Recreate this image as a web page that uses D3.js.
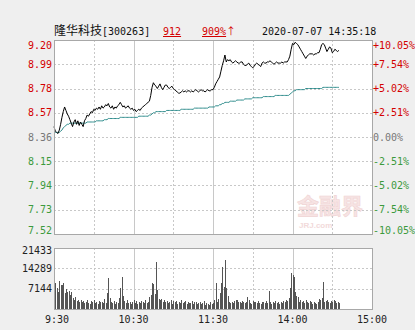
<!DOCTYPE html>
<html>
<head>
<meta charset="utf-8">
<script src="https://cdn.jsdelivr.net/npm/d3@7"></script>
<style>
  html, body { margin: 0; padding: 0; background: #efefef; }
  svg { display: block; }
  text { white-space: pre; }
</style>
</head>
<body>
<div id="chart"></div>
<script>
// minute index 0..240 (9:30 -> 11:30 = 0..120, 13:00 -> 15:00 = 120..240)
var timeTicks = [0, 60, 120, 180, 240];
var timeLabels = [' 9:30', '10:30', '11:30', '14:00', '15:00'];
var halfHourTicks = [30, 90, 150, 210];

var priceTicks = [9.20, 8.99, 8.78, 8.57, 8.36, 8.15, 7.94, 7.73, 7.52];
var priceLabels = ['9.20', '8.99', '8.78', '8.57', '8.36', '8.15', '7.94', '7.73', '7.52'];
var pctLabels = ['+10.05%', '+7.54%', '+5.02%', '+2.51%', '0.00%', '-2.51%', '-5.02%', '-7.54%', '-10.05%'];
var prevClose = 8.36;

var volTicks = [7144, 14289, 21433];

// last price, one per minute, 9:30 .. 14:35
var price = [
  8.45, 8.41, 8.40, 8.39, 8.42, 8.47, 8.53, 8.58, 8.62, 8.59,
  8.56, 8.54, 8.51, 8.48, 8.45, 8.49, 8.51, 8.47, 8.50, 8.46,
  8.49, 8.47, 8.45, 8.50, 8.52, 8.55, 8.54, 8.56, 8.58, 8.57,
  8.60, 8.59, 8.61, 8.60, 8.62, 8.60, 8.63, 8.61, 8.62, 8.64,
  8.63, 8.65, 8.62, 8.61, 8.63, 8.60, 8.62, 8.61, 8.63, 8.64,
  8.66, 8.64, 8.62, 8.63, 8.61, 8.62, 8.63, 8.61, 8.60, 8.61,
  8.59, 8.60, 8.58, 8.59, 8.60, 8.59, 8.61, 8.62, 8.63, 8.64,
  8.65, 8.66, 8.67, 8.72, 8.79, 8.83, 8.81, 8.80, 8.78, 8.80,
  8.82, 8.79, 8.77, 8.79, 8.81, 8.81, 8.79, 8.78, 8.79, 8.80,
  8.78, 8.77, 8.76, 8.75, 8.74, 8.74, 8.75, 8.76, 8.75, 8.76,
  8.75, 8.76, 8.76, 8.75, 8.76, 8.75, 8.76, 8.77, 8.76, 8.75,
  8.76, 8.77, 8.76, 8.76, 8.75, 8.76, 8.77, 8.76, 8.76, 8.77,
  8.77,
  8.79, 8.82, 8.84, 8.86, 8.88, 8.93, 8.98, 9.02, 9.07, 9.01,
  9.03, 9.02, 9.03, 9.01, 9.00, 9.01, 9.02, 9.01, 9.00, 9.00,
  9.01, 9.01, 8.99, 8.98, 8.98, 8.99, 9.00, 8.98, 8.97, 8.96,
  8.97, 8.99, 9.00, 8.99, 8.98, 8.97, 9.00, 9.01, 9.00, 9.00,
  9.01, 9.01, 9.02, 9.01, 9.00, 8.99, 9.00, 9.01, 9.00, 9.00,
  9.00, 9.01, 9.00, 9.01, 9.01, 9.01, 9.03, 9.06, 9.12, 9.17,
  9.16, 9.18, 9.17, 9.16, 9.14, 9.12, 9.10, 9.08, 9.06, 9.04,
  9.06, 9.07, 9.08, 9.08, 9.08, 9.07, 9.08, 9.08, 9.09, 9.09,
  9.12, 9.16, 9.17, 9.16, 9.13, 9.10, 9.12, 9.14, 9.13, 9.09,
  9.10, 9.12, 9.11, 9.10, 9.11
];

// average price line
var avgPrice = [
  8.40, 8.40, 8.40, 8.40, 8.40, 8.41, 8.42, 8.44, 8.45, 8.46,
  8.47, 8.47, 8.48, 8.48, 8.48, 8.48, 8.48, 8.48, 8.48, 8.48,
  8.48, 8.48, 8.48, 8.48, 8.48, 8.49, 8.49, 8.49, 8.49, 8.49,
  8.49, 8.49, 8.50, 8.50, 8.50, 8.50, 8.50, 8.50, 8.51, 8.51,
  8.51, 8.52, 8.52, 8.52, 8.52, 8.52, 8.52, 8.52, 8.52, 8.52,
  8.53, 8.53, 8.53, 8.53, 8.53, 8.53, 8.53, 8.53, 8.53, 8.53,
  8.53, 8.53, 8.53, 8.53, 8.54, 8.54, 8.54, 8.54, 8.54, 8.54,
  8.54, 8.54, 8.55, 8.55, 8.56, 8.57, 8.57, 8.58, 8.58, 8.58,
  8.58, 8.58, 8.58, 8.58, 8.58, 8.59, 8.59, 8.59, 8.59, 8.59,
  8.59, 8.59, 8.59, 8.59, 8.59, 8.59, 8.60, 8.60, 8.60, 8.60,
  8.60, 8.60, 8.60, 8.60, 8.60, 8.60, 8.61, 8.61, 8.61, 8.61,
  8.61, 8.61, 8.61, 8.61, 8.61, 8.61, 8.61, 8.62, 8.62, 8.62,
  8.62,
  8.62, 8.63, 8.63, 8.63, 8.64, 8.64, 8.65, 8.65, 8.66, 8.66,
  8.66, 8.66, 8.67, 8.67, 8.67, 8.67, 8.67, 8.68, 8.68, 8.68,
  8.68, 8.68, 8.68, 8.69, 8.69, 8.69, 8.69, 8.69, 8.69, 8.70,
  8.70, 8.70, 8.70, 8.70, 8.70, 8.70, 8.70, 8.71, 8.71, 8.71,
  8.71, 8.71, 8.71, 8.71, 8.71, 8.71, 8.72, 8.72, 8.72, 8.72,
  8.72, 8.72, 8.72, 8.72, 8.72, 8.72, 8.72, 8.73, 8.74, 8.75,
  8.76, 8.76, 8.77, 8.77, 8.77, 8.77, 8.77, 8.77, 8.77, 8.78,
  8.78, 8.78, 8.78, 8.78, 8.78, 8.78, 8.78, 8.78, 8.78, 8.78,
  8.78, 8.78, 8.79, 8.79, 8.79, 8.79, 8.79, 8.79, 8.79, 8.79,
  8.79, 8.79, 8.79, 8.79, 8.79
];

// volume per minute
var volume = [
  21000, 9000, 7400, 6100, 9900, 8400, 8400, 9000, 5500, 6900,
  5900, 6500, 5000, 6100, 3800, 3200, 4300, 2800, 3300, 2500,
  3100, 2400, 2900, 2000, 2600, 3300, 2200, 1800, 2700, 2400,
  3000, 2100, 2500, 1900, 2800, 2300, 2600, 2000, 3400, 2200,
  5700, 11000, 3900, 2500, 2100, 2900, 1800, 2400, 2000, 4000,
  7400, 11300, 4600, 2800, 2200, 3100, 2000, 2600, 1900, 2500,
  3000, 2200, 2700, 1800, 2400, 2100, 2900, 2300, 2000, 3300,
  2200, 2600, 4200, 5000, 9000, 8800, 5200, 16600, 6700, 3500,
  3000, 3400, 2600, 3200, 2400, 2800, 2100, 2500, 3000, 1900,
  2700, 2300, 2900, 1800, 2500, 2200, 3100, 2000, 2400, 2800,
  1900, 2600, 2200, 2000, 2900, 1700, 2300, 2500, 1800, 2100,
  2400, 1600, 2000, 2700, 1500, 2200, 1900, 1300, 2300, 1600,
  2000,
  3000, 9200, 2600, 3400, 5500, 9000, 14800, 7800, 17200, 7400,
  4600, 2600, 2200, 2500, 2000, 2800, 3000, 3300, 2600, 2300,
  2100, 2900, 2400, 2000, 2600, 4300, 3200, 2200, 1900, 2700,
  2300, 2500, 2000, 2800, 2200, 1800, 2600, 2400, 2100, 2700,
  2000, 6400, 2300, 1900, 2500, 2200, 2800, 2000, 2600, 1800,
  2400, 2100, 2900, 2500, 3200, 2800, 3800, 7400, 12500, 12100,
  11300, 6100, 4600, 4200, 2600, 3000, 2300, 2700, 2000, 3300,
  2500, 2200, 2800, 2400, 1900, 2600, 2100, 1700, 2300, 3500,
  3000, 3800, 9600, 2400, 2800, 3300, 2600, 2100, 2900, 2400,
  3100, 2700, 2200, 2500, 2000
];

var width = 415, height = 330;
var left = 54, right = 372;
var mainTop = 40, mainBottom = 234;
var volTop = 248, volBottom = 309;

var monoFont = '"DejaVu Sans Mono", "Liberation Mono", monospace';
var red = '#d40000', green = '#3c9a3c', grey = '#777';

var svg = d3.select('#chart')
  .append('svg')
  .attr('width', width)
  .attr('height', height);

var x = d3.scaleLinear().domain([0, 240]).range([left, right]);
var y = d3.scaleLinear().domain([7.52, 9.20]).range([mainBottom, mainTop]);
var yVol = d3.scaleLinear().domain([0, 21433]).range([volBottom, volTop]);

// plot backgrounds
[[mainTop, mainBottom], [volTop, volBottom]].forEach(function(p) {
  svg.append('rect')
    .attr('x', left + 0.5)
    .attr('y', p[0] + 0.5)
    .attr('width', right - left)
    .attr('height', p[1] - p[0])
    .attr('fill', '#fff');
});

// watermark
var wm = svg.append('g');
wm.append('text')
  .attr('x', 297).attr('y', 214)
  .attr('font-family', '"Noto Sans CJK SC"')
  .attr('font-weight', 'bold')
  .attr('font-size', 22)
  .attr('fill', '#f7e4e4')
  .attr('stroke', '#f0d4d4')
  .attr('stroke-width', 0.6)
  .text('金融界');
wm.append('text')
  .attr('x', 299).attr('y', 228)
  .attr('font-family', 'Arial, "Liberation Sans"')
  .attr('font-weight', 'bold')
  .attr('font-size', 8)
  .attr('fill', '#f2dada')
  .text('JRJ.com');

// horizontal grid
svg.append('g')
  .selectAll('line')
  .data(priceTicks.slice(1, -1))
  .enter()
  .append('line')
  .attr('x1', left).attr('x2', right)
  .attr('y1', d => Math.round(y(d)) + 0.5)
  .attr('y2', d => Math.round(y(d)) + 0.5)
  .style('stroke', '#c8c8c8')
  .style('stroke-dasharray', '2,2');

svg.append('g')
  .selectAll('line')
  .data(volTicks.slice(0, -1))
  .enter()
  .append('line')
  .attr('x1', left).attr('x2', right)
  .attr('y1', d => Math.round(yVol(d)) + 0.5)
  .attr('y2', d => Math.round(yVol(d)) + 0.5)
  .style('stroke', '#c8c8c8')
  .style('stroke-dasharray', '2,2');

// vertical grid, solid on the hour, dashed on the half hour
[[mainTop, mainBottom], [volTop, volBottom]].forEach(function(p) {
  svg.append('g')
    .selectAll('line.hour')
    .data(timeTicks.slice(1, -1))
    .enter()
    .append('line')
    .attr('class', 'hour')
    .attr('x1', d => Math.round(x(d)) + 0.5)
    .attr('x2', d => Math.round(x(d)) + 0.5)
    .attr('y1', p[0]).attr('y2', p[1])
    .style('stroke', '#c8c8c8');

  svg.append('g')
    .selectAll('line.half')
    .data(halfHourTicks)
    .enter()
    .append('line')
    .attr('class', 'half')
    .attr('x1', d => Math.round(x(d)) + 0.5)
    .attr('x2', d => Math.round(x(d)) + 0.5)
    .attr('y1', p[0]).attr('y2', p[1])
    .style('stroke', '#c8c8c8')
    .style('stroke-dasharray', '2,2');
});

// volume bars
svg.append('g')
  .selectAll('rect')
  .data(volume)
  .enter()
  .append('rect')
  .attr('x', (d, i) => Math.round(x(i)))
  .attr('y', d => yVol(d))
  .attr('width', 1)
  .attr('height', d => volBottom - yVol(d))
  .attr('fill', '#555')
  .attr('shape-rendering', 'crispEdges');

// average line
svg.append('path')
  .datum(avgPrice)
  .attr('d', d3.line().x((d, i) => x(i)).y(d => y(d)))
  .style('fill', 'none')
  .style('stroke', '#2f8c8c')
  .style('stroke-width', 1);

// price line
svg.append('path')
  .datum(price)
  .attr('d', d3.line().x((d, i) => x(i)).y(d => y(d)))
  .style('fill', 'none')
  .style('stroke', '#000')
  .style('stroke-width', 1);

// plot borders
[[mainTop, mainBottom], [volTop, volBottom]].forEach(function(p) {
  svg.append('rect')
    .attr('x', left + 0.5)
    .attr('y', p[0] + 0.5)
    .attr('width', right - left)
    .attr('height', p[1] - p[0])
    .attr('fill', 'none')
    .attr('stroke', '#a8a8a8');
});

// price labels left and percent labels right
function labelColor(v) {
  if (v > prevClose + 0.001) return red;
  if (v < prevClose - 0.001) return green;
  return grey;
}
function labelY(v) {
  return Math.max(mainTop + 5, Math.min(mainBottom - 4, y(v)));
}

svg.append('g')
  .selectAll('text')
  .data(priceTicks)
  .enter()
  .append('text')
  .attr('x', 52)
  .attr('y', d => labelY(d))
  .attr('dy', '0.35em')
  .attr('text-anchor', 'end')
  .attr('font-family', monoFont)
  .attr('font-size', 10)
  .attr('fill', d => labelColor(d))
  .text((d, i) => priceLabels[i]);

svg.append('g')
  .selectAll('text')
  .data(priceTicks)
  .enter()
  .append('text')
  .attr('x', 373)
  .attr('y', d => labelY(d))
  .attr('dy', '0.35em')
  .attr('font-family', monoFont)
  .attr('font-size', 10)
  .attr('fill', d => labelColor(d))
  .text((d, i) => pctLabels[i]);

// volume labels
svg.append('g')
  .selectAll('text')
  .data(volTicks)
  .enter()
  .append('text')
  .attr('x', 52)
  .attr('y', d => Math.max(volTop + 2, yVol(d)))
  .attr('dy', '0.35em')
  .attr('text-anchor', 'end')
  .attr('font-family', monoFont)
  .attr('font-size', 10)
  .attr('fill', '#222')
  .text(d => d);

// time labels
svg.append('g')
  .selectAll('text')
  .data(timeTicks)
  .enter()
  .append('text')
  .attr('x', d => x(d))
  .attr('y', 323)
  .attr('text-anchor', 'middle')
  .attr('font-family', monoFont)
  .attr('font-size', 10)
  .attr('fill', '#222')
  .text((d, i) => timeLabels[i]);

// header
var header = svg.append('text')
  .attr('x', 54)
  .attr('y', 35)
  .attr('font-family', monoFont)
  .attr('font-size', 10)
  .attr('fill', '#111');
header.append('tspan')
  .attr('font-family', '"Noto Sans CJK SC"')
  .attr('font-size', 12)
  .text('隆华科技');
header.append('tspan').text('[300263]');

svg.append('text')
  .attr('x', 163).attr('y', 35)
  .attr('font-family', monoFont)
  .attr('font-size', 10)
  .attr('fill', red)
  .attr('text-decoration', 'underline')
  .text('912');

var chg = svg.append('text')
  .attr('x', 202).attr('y', 35)
  .attr('font-family', monoFont)
  .attr('font-size', 10)
  .attr('fill', red);
chg.append('tspan').attr('text-decoration', 'underline').text('909%');
chg.append('tspan').attr('font-family', '"Noto Sans CJK SC"').text('↑');

svg.append('text')
  .attr('x', 262).attr('y', 35)
  .attr('font-family', monoFont)
  .attr('font-size', 10)
  .attr('fill', '#111')
  .text('2020-07-07 14:35:18');
</script>
</body>
</html>
